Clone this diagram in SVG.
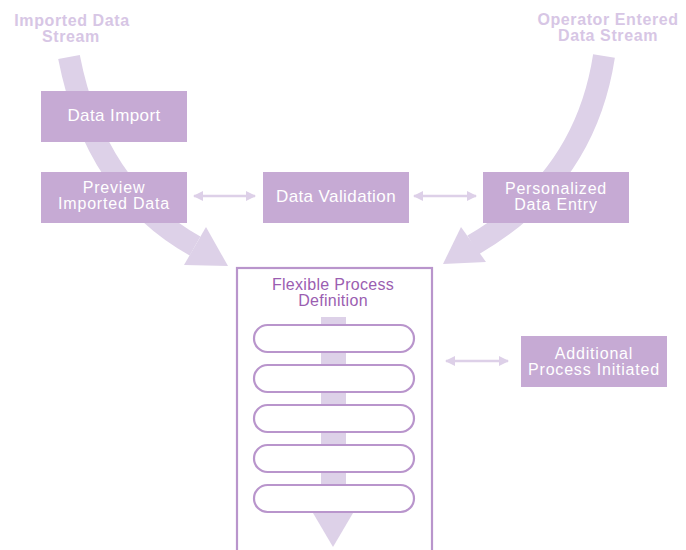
<svg xmlns="http://www.w3.org/2000/svg" width="686" height="550" viewBox="0 0 686 550">
<defs>
<style>
.box{fill:#c6aad4}
.bt{fill:#ffffff;font-family:"Liberation Sans",Arial,sans-serif;font-size:17px;letter-spacing:0.4px;text-anchor:middle}
.bt2{fill:#ffffff;font-family:"Liberation Sans",Arial,sans-serif;font-size:16px;letter-spacing:0.8px;text-anchor:middle}
.ttl{fill:#d7c6e5;font-family:"Liberation Sans",Arial,sans-serif;font-size:16px;font-weight:bold;letter-spacing:0.6px;text-anchor:middle}
.band{fill:none;stroke:#ddd1e8;stroke-width:22}
.head{fill:#ddd1e8}
.link{stroke:#ddd0e8;stroke-width:2.5;fill:none;marker-start:url(#ah);marker-end:url(#ah)}
.pill{fill:#ffffff;stroke:#b995cc;stroke-width:2.2}
.ft{fill:#9b5eb1;font-family:"Liberation Sans",Arial,sans-serif;font-size:16px;letter-spacing:0.3px;text-anchor:middle}
</style>
<marker id="ah" viewBox="0 0 10 10" refX="9" refY="5" markerWidth="4" markerHeight="4" orient="auto-start-reverse" markerUnits="strokeWidth">
<path d="M0,0 L10,5 L0,10 Z" fill="#ddd0e8"/>
</marker>
</defs>
<rect width="686" height="550" fill="#ffffff"/>

<g id="titles">
<text class="ttl" x="72" y="26">Imported Data</text>
<text class="ttl" x="71" y="42">Stream</text>
<text class="ttl" x="608" y="25">Operator Entered</text>
<text class="ttl" x="608" y="41">Data Stream</text>
</g>

<g id="streams">
<path class="band" d="M69,57 Q95,190 195,246"/>
<polygon class="head" points="228,266 206,227 184,265"/>
<path class="band" d="M604,56 Q585,180 473,245"/>
<polygon class="head" points="443,264 461,227 486,262"/>
</g>

<g id="connectors">
<line class="link" x1="194" y1="196" x2="255" y2="196"/>
<line class="link" x1="414" y1="196" x2="476" y2="196"/>
<line class="link" x1="446" y1="361" x2="508" y2="361"/>
</g>

<g id="data-import">
<rect class="box" x="41" y="91" width="146" height="51"/>
<text class="bt" x="114" y="121">Data Import</text>
</g>
<g id="preview-imported-data">
<rect class="box" x="41" y="172" width="146" height="51"/>
<text class="bt2" x="114" y="193">Preview</text>
<text class="bt2" x="114" y="209">Imported Data</text>
</g>
<g id="data-validation">
<rect class="box" x="263" y="172" width="146" height="51"/>
<text class="bt" x="336" y="202">Data Validation</text>
</g>
<g id="personalized-data-entry">
<rect class="box" x="483" y="172" width="146" height="51"/>
<text class="bt2" x="556" y="194">Personalized</text>
<text class="bt2" x="556" y="210">Data Entry</text>
</g>
<g id="additional-process">
<rect class="box" x="521" y="336" width="146" height="51"/>
<text class="bt2" x="594" y="359">Additional</text>
<text class="bt2" x="594" y="375">Process Initiated</text>
</g>

<g id="flexible-process-definition">
<rect x="237" y="268" width="195" height="290" fill="#ffffff" stroke="#b995cc" stroke-width="2.2"/>
<text class="ft" x="333" y="290">Flexible Process</text>
<text class="ft" x="333" y="306">Definition</text>
<rect x="321" y="317" width="25" height="198" fill="#ddd1e8"/>
<polygon points="313,513 353,513 333,547" fill="#ddd1e8"/>
<rect class="pill" x="254" y="325" width="160" height="27" rx="13.5"/>
<rect class="pill" x="254" y="365" width="160" height="27" rx="13.5"/>
<rect class="pill" x="254" y="405" width="160" height="27" rx="13.5"/>
<rect class="pill" x="254" y="445" width="160" height="27" rx="13.5"/>
<rect class="pill" x="254" y="485" width="160" height="27" rx="13.5"/>
</g>
</svg>
